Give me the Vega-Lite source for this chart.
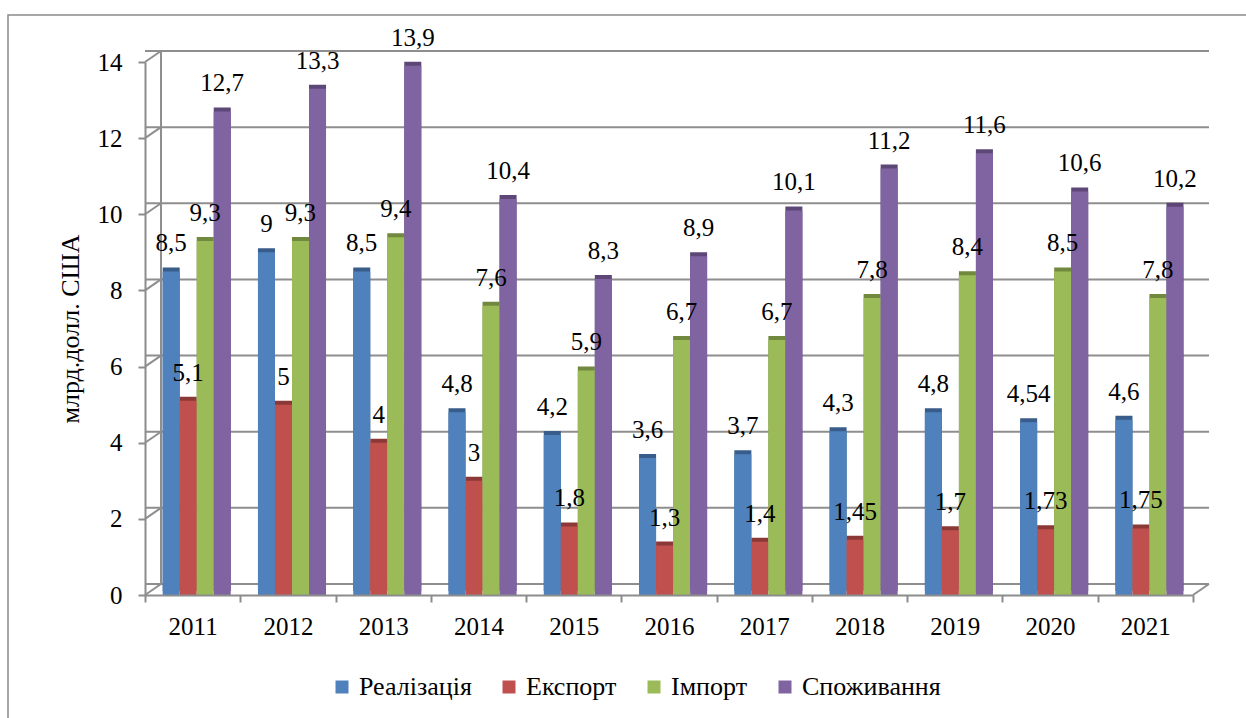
{
  "$schema": "https://vega.github.io/schema/vega-lite/v6.json",
  "width": 1048,
  "height": 533,
  "autosize": {"type": "none"},
  "padding": {"left": 145, "top": 62, "right": 53, "bottom": 123},
  "background": "white",
  "config": {
    "locale": {"number": {"decimal": ",", "thousands": " ", "grouping": [3], "currency": ["", ""]}},
    "font": "Liberation Serif",
    "view": {"stroke": null},
    "axis": {
      "domainColor": "#8c8c8c",
      "domainWidth": 2,
      "tickColor": "#8c8c8c",
      "tickWidth": 2,
      "tickSize": 7,
      "labelFont": "Liberation Serif",
      "labelFontSize": 25,
      "labelColor": "#000000",
      "titleFont": "Liberation Serif",
      "titleFontWeight": "normal",
      "titleColor": "#000000",
      "grid": false
    },
    "legend": {
      "labelFont": "Liberation Serif",
      "labelFontSize": 26,
      "labelColor": "#000000",
      "labelLimit": 300
    }
  },
  "datasets": {
    "trade": [
      {"year": "2011", "series": "Реалізація", "value": 8.5},
      {"year": "2011", "series": "Експорт", "value": 5.1},
      {"year": "2011", "series": "Імпорт", "value": 9.3},
      {"year": "2011", "series": "Споживання", "value": 12.7},
      {"year": "2012", "series": "Реалізація", "value": 9},
      {"year": "2012", "series": "Експорт", "value": 5},
      {"year": "2012", "series": "Імпорт", "value": 9.3},
      {"year": "2012", "series": "Споживання", "value": 13.3},
      {"year": "2013", "series": "Реалізація", "value": 8.5},
      {"year": "2013", "series": "Експорт", "value": 4},
      {"year": "2013", "series": "Імпорт", "value": 9.4},
      {"year": "2013", "series": "Споживання", "value": 13.9},
      {"year": "2014", "series": "Реалізація", "value": 4.8},
      {"year": "2014", "series": "Експорт", "value": 3},
      {"year": "2014", "series": "Імпорт", "value": 7.6},
      {"year": "2014", "series": "Споживання", "value": 10.4},
      {"year": "2015", "series": "Реалізація", "value": 4.2},
      {"year": "2015", "series": "Експорт", "value": 1.8},
      {"year": "2015", "series": "Імпорт", "value": 5.9},
      {"year": "2015", "series": "Споживання", "value": 8.3},
      {"year": "2016", "series": "Реалізація", "value": 3.6},
      {"year": "2016", "series": "Експорт", "value": 1.3},
      {"year": "2016", "series": "Імпорт", "value": 6.7},
      {"year": "2016", "series": "Споживання", "value": 8.9},
      {"year": "2017", "series": "Реалізація", "value": 3.7},
      {"year": "2017", "series": "Експорт", "value": 1.4},
      {"year": "2017", "series": "Імпорт", "value": 6.7},
      {"year": "2017", "series": "Споживання", "value": 10.1},
      {"year": "2018", "series": "Реалізація", "value": 4.3},
      {"year": "2018", "series": "Експорт", "value": 1.45},
      {"year": "2018", "series": "Імпорт", "value": 7.8},
      {"year": "2018", "series": "Споживання", "value": 11.2},
      {"year": "2019", "series": "Реалізація", "value": 4.8},
      {"year": "2019", "series": "Експорт", "value": 1.7},
      {"year": "2019", "series": "Імпорт", "value": 8.4},
      {"year": "2019", "series": "Споживання", "value": 11.6},
      {"year": "2020", "series": "Реалізація", "value": 4.54},
      {"year": "2020", "series": "Експорт", "value": 1.73},
      {"year": "2020", "series": "Імпорт", "value": 8.5},
      {"year": "2020", "series": "Споживання", "value": 10.6},
      {"year": "2021", "series": "Реалізація", "value": 4.6},
      {"year": "2021", "series": "Експорт", "value": 1.75},
      {"year": "2021", "series": "Імпорт", "value": 7.8},
      {"year": "2021", "series": "Споживання", "value": 10.2}
    ],
    "levels": [
      {"v": 0}, {"v": 2}, {"v": 4}, {"v": 6}, {"v": 8}, {"v": 10}, {"v": 12}, {"v": 14}
    ]
  },
  "resolve": {"scale": {"color": "independent"}, "legend": {"color": "independent"}},
  "layer": [
    {
      "data": {"values": [{"lo": 0, "hi": 14}]},
      "mark": {"type": "rect", "fill": null, "stroke": "#8a8a8a", "strokeWidth": 1.5, "xOffset": -137, "x2Offset": 60, "yOffset": 130, "y2Offset": -47},
      "encoding": {
        "x": {
          "datum": "2011",
          "type": "ordinal",
          "bandPosition": 0,
          "title": null,
          "axis": {"labelAngle": 0, "tickBand": "extent", "bandPosition": 0.5, "labelPadding": 12}
        },
        "x2": {"datum": "2021", "bandPosition": 1},
        "y": {"field": "lo", "type": "quantitative", "title": "млрд.долл. США"},
        "y2": {"field": "hi"}
      }
    },
    {
      "data": {"name": "levels"},
      "mark": {"type": "rule", "xOffset": 16, "yOffset": -11, "color": "#8e8e8e", "strokeWidth": 2},
      "encoding": {
        "y": {
          "field": "v",
          "type": "quantitative",
          "title": "млрд.долл. США",
          "scale": {"domain": [0, 14], "nice": false},
          "axis": {"values": [0, 2, 4, 6, 8, 10, 12, 14], "labelPadding": 16, "titleFontSize": 26, "titlePadding": 14}
        }
      }
    },
    {
      "data": {"name": "levels"},
      "mark": {"type": "rule", "x2Offset": 16, "y2Offset": -11, "color": "#8e8e8e", "strokeWidth": 2},
      "encoding": {
        "x": {"datum": "2011", "type": "ordinal", "bandPosition": 0, "title": null},
        "x2": {"datum": "2011", "bandPosition": 0},
        "y": {"field": "v", "type": "quantitative", "title": "млрд.долл. США"},
        "y2": {"field": "v"}
      }
    },
    {
      "data": {"values": [{"lo": 0, "hi": 14}]},
      "mark": {"type": "rule", "xOffset": 16, "yOffset": -11, "y2Offset": -11, "color": "#8e8e8e", "strokeWidth": 2},
      "encoding": {
        "x": {"datum": "2011", "type": "ordinal", "bandPosition": 0, "title": null},
        "y": {"field": "lo", "type": "quantitative", "title": "млрд.долл. США"},
        "y2": {"field": "hi"}
      }
    },
    {
      "data": {"values": [{"lo": 0}]},
      "mark": {"type": "rule", "x2Offset": 16, "y2Offset": -11, "color": "#8e8e8e", "strokeWidth": 2},
      "encoding": {
        "x": {"datum": "2021", "type": "ordinal", "bandPosition": 1, "title": null},
        "x2": {"datum": "2021", "bandPosition": 1},
        "y": {"field": "lo", "type": "quantitative", "title": "млрд.долл. США"},
        "y2": {"field": "lo"}
      }
    },
    {
      "data": {"name": "trade"},
      "mark": {"type": "bar", "xOffset": 5.5, "yOffset": -4, "y2Offset": -5},
      "encoding": {
        "x": {"field": "year", "type": "ordinal", "title": null},
        "xOffset": {"field": "series", "sort": ["Реалізація", "Експорт", "Імпорт", "Споживання"]},
        "y": {"field": "value", "type": "quantitative", "title": "млрд.долл. США"},
        "color": {
          "field": "series",
          "scale": {
            "domain": ["Реалізація", "Експорт", "Імпорт", "Споживання"],
            "range": ["#385D8A", "#8C3836", "#71893F", "#5C4776"]
          },
          "legend": null
        }
      }
    },
    {
      "data": {"name": "trade"},
      "mark": {"type": "bar"},
      "encoding": {
        "x": {
          "field": "year",
          "type": "ordinal",
          "title": null,
          "scale": {"paddingInner": 0, "paddingOuter": 0}
        },
        "xOffset": {
          "field": "series",
          "sort": ["Реалізація", "Експорт", "Імпорт", "Споживання"],
          "scale": {"paddingInner": 0, "paddingOuter": 0.8, "align": 0.65}
        },
        "y": {"field": "value", "type": "quantitative", "title": "млрд.долл. США"},
        "color": {
          "field": "series",
          "title": null,
          "scale": {
            "domain": ["Реалізація", "Експорт", "Імпорт", "Споживання"],
            "range": ["#4F81BD", "#C0504D", "#9BBB59", "#8064A2"]
          },
          "legend": {
            "orient": "none",
            "direction": "horizontal",
            "legendX": 184,
            "legendY": 612,
            "symbolType": "square",
            "symbolSize": 169,
            "symbolStrokeWidth": 0,
            "labelOffset": 4,
            "columnPadding": 24
          }
        }
      }
    },
    {
      "data": {"name": "trade"},
      "mark": {"type": "text", "dy": -20, "baseline": "alphabetic", "fontSize": 25, "color": "#000000", "font": "Liberation Serif"},
      "encoding": {
        "x": {"field": "year", "type": "ordinal", "title": null},
        "xOffset": {"field": "series", "sort": ["Реалізація", "Експорт", "Імпорт", "Споживання"]},
        "y": {"field": "value", "type": "quantitative", "title": "млрд.долл. США"},
        "text": {"field": "value", "type": "quantitative", "format": "~g"}
      }
    }
  ]
}
